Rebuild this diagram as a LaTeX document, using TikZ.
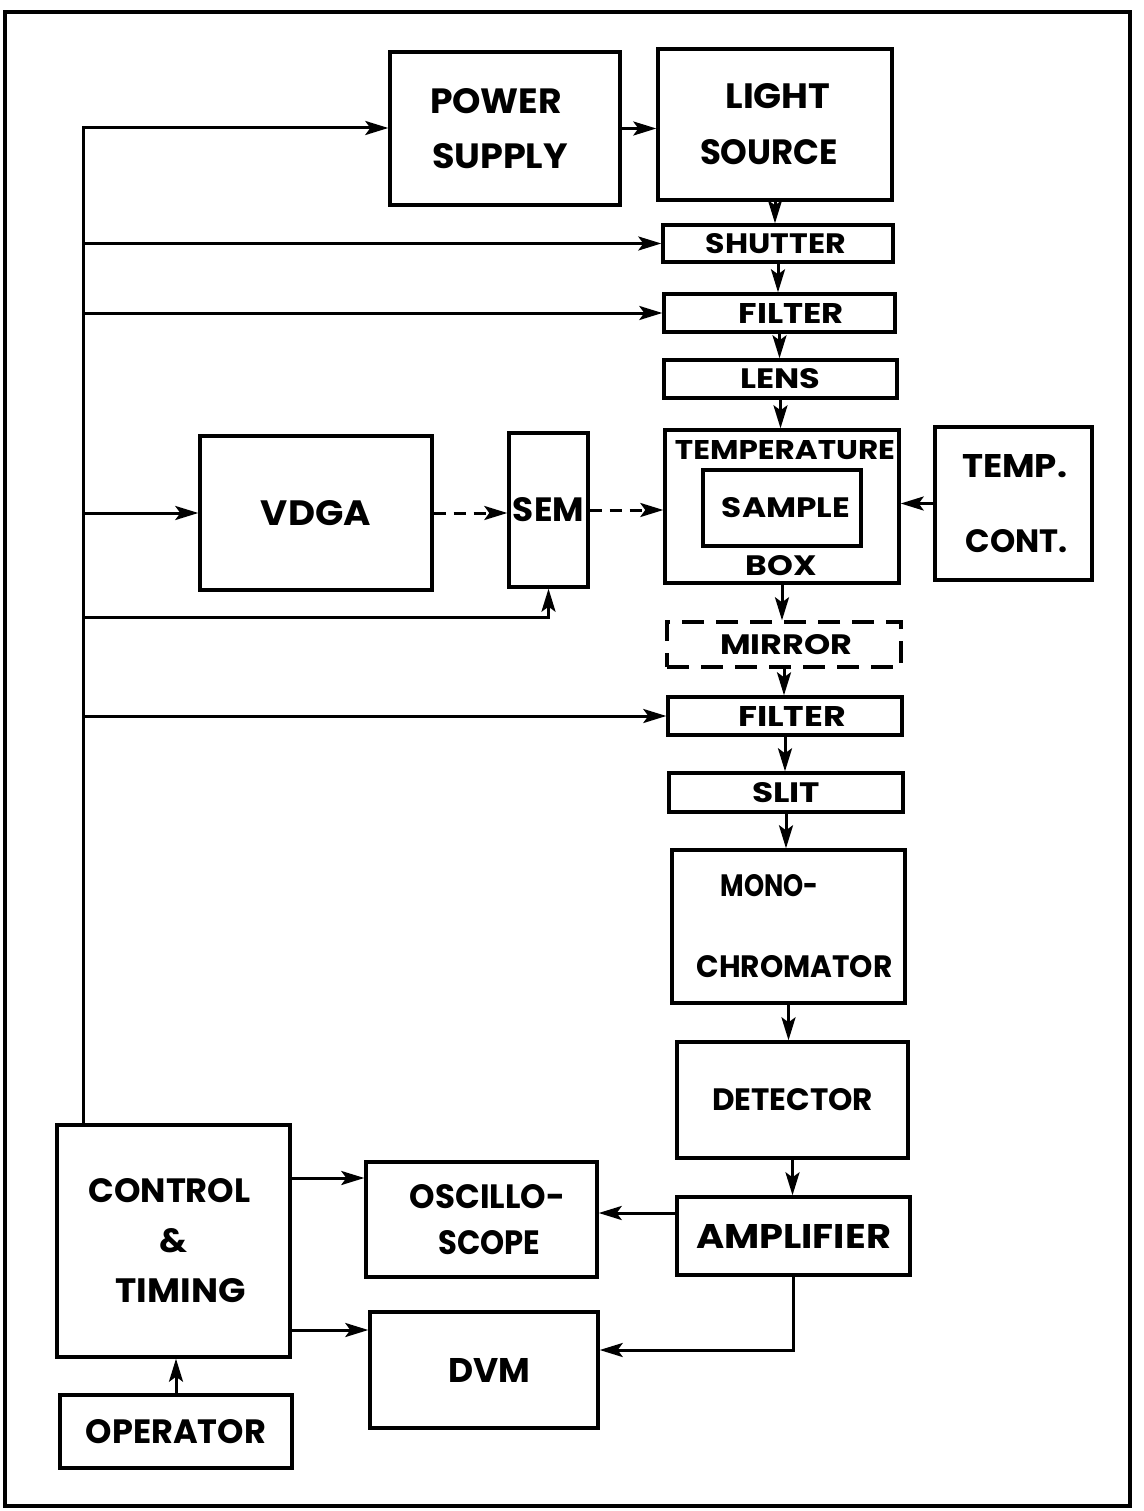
\documentclass[tikz,border=0pt]{standalone}
\usepackage{fontspec}
\setmainfont{Poppins}
\usetikzlibrary{arrows.meta}
\newcommand\TT[4][0]{\hspace*{#1pt}\resizebox{#2pt}{#3pt}{\bfseries #4}\hspace*{-#1pt}}
\tikzset{
  box/.style={draw, line width=3.4pt, inner sep=0pt, align=center},
  bs/.style={font=\fontsize{10pt}{#1pt}\selectfont},
  lbl/.style={inner sep=0pt, align=center},
  arr/.style={line width=3pt, -{Stealth[length=23pt,width=14pt,inset=5pt]}},
  darr/.style={arr, dash pattern=on 12pt off 8pt},
  dbox/.style={box, dash pattern=on 22pt off 12pt}
}
\begin{document}
\begin{tikzpicture}[x=1pt,y=-1pt]
\useasboundingbox (0,0) rectangle (1143,1511);
\draw[line width=4.5pt] (5,12) rectangle (1130,1506);

% top row
\node[box, minimum width=230pt, minimum height=153pt, bs=55] (ps) at (505,128.5) {\TT[-9]{132}{25}{POWER}\\\TT[-5]{136}{25}{SUPPLY}};
\node[box, minimum width=234pt, minimum height=151pt, bs=56] (ls) at (775,124.5) {\TT[3]{105}{25}{LIGHT}\\\TT[-6]{138}{25}{SOURCE}};

% optical chain
\node[box, minimum width=230pt, minimum height=37pt] (sh) at (778,243.5) {\TT[-2]{140}{20}{SHUTTER}};
\node[box, minimum width=231pt, minimum height=38pt] (f1) at (779.5,313) {\TT[12]{105}{20}{FILTER}};
\node[box, minimum width=233pt, minimum height=38pt] (ln) at (780.5,379) {\TT{80}{20}{LENS}};
\node[box, minimum width=234pt, minimum height=153pt] (tb) at (782,506.5) {};
\node[lbl] (tbt) at (785,450) {\TT{220}{19}{TEMPERATURE}};
\node[box, minimum width=158pt, minimum height=76pt] (sp) at (782,508) {\TT[4]{128}{20}{SAMPLE}};
\node[lbl] (tbb) at (781,566) {\TT{71}{20}{BOX}};
\node[box, minimum width=157pt, minimum height=153pt, bs=75] (tc) at (1013.5,503.5) {\TT[1]{105}{23}{TEMP.}\\\TT[3]{102}{23}{CONT.}};
\node[dbox, minimum width=234pt, minimum height=45pt] (mir) at (784,644.5) {\TT[2]{132}{20}{MIRROR}};
\node[box, minimum width=234pt, minimum height=38pt] (f2) at (785,716) {\TT[7]{108}{20}{FILTER}};
\node[box, minimum width=234pt, minimum height=39pt] (sl) at (786,792.5) {\TT{68}{20}{SLIT}};
\node[box, minimum width=233pt, minimum height=153pt, bs=81] (mono) at (788.5,926.5) {\TT[-19]{98}{22}{MONO-}\\\TT[6]{196}{22}{CHROMATOR}};
\node[box, minimum width=231pt, minimum height=116pt] (det) at (792.5,1100) {\TT{161}{22}{DETECTOR}};
\node[box, minimum width=233pt, minimum height=78pt] (amp) at (793.5,1236) {\TT{195}{24}{AMPLIFIER}};

% left side
\node[box, minimum width=232pt, minimum height=154pt] (vdga) at (316,513) {\TT{110}{25}{VDGA}};
\node[box, minimum width=79pt, minimum height=154pt] (sem) at (548.5,510) {\TT{71}{24}{SEM}};

% bottom
\node[box, minimum width=233pt, minimum height=232pt, bs=50] (ctl) at (173.5,1241) {\TT[-4]{162}{24}{CONTROL}\\\TT{28}{24}{\&}\\\TT[7]{130}{24}{TIMING}};
\node[box, minimum width=232pt, minimum height=73pt] (op) at (176,1431.5) {\TT{180}{24}{OPERATOR}};
\node[box, minimum width=231pt, minimum height=115pt, bs=46] (osc) at (481.5,1219.5) {\TT[6]{155}{24}{OSCILLO-}\\\TT[8]{102}{24}{SCOPE}};
\node[box, minimum width=228pt, minimum height=116pt] (dvm) at (484,1370) {\TT[5]{82}{24}{DVM}};

% helper coordinates
\coordinate (bus) at (83,128);
\coordinate (semb) at (548.5,617);
\coordinate (c1) at (0,1178);
\coordinate (c2) at (0,1330);
\coordinate (a1) at (0,1213);
\coordinate (a2) at (0,1350);

% control bus
\draw[arr] (ctl.north -| bus) -- (bus) -- (bus -| ps.west);
\draw[arr] (bus |- sh.west) -- (sh.west);
\draw[arr] (bus |- f1.west) -- (f1.west);
\draw[arr] (bus |- vdga.west) -- (vdga.west);
\draw[arr] (bus |- semb) -- (semb) -- (sem.south);
\draw[arr] (bus |- f2.west) -- (f2.west);

% power -> light
\draw[arr] (ps.east) -- (ps.east -| ls.west);

% chain
\draw[arr] (ls.south) -- (ls.south |- sh.north);
\draw[arr] (sh.south) -- (sh.south |- f1.north);
\draw[arr] (f1.south) -- (f1.south |- ln.north);
\draw[arr] (ln.south) -- (ln.south |- tb.north);
\draw[arr] (tb.south) -- (tb.south |- mir.north);
\draw[arr] (mir.south) -- (mir.south |- f2.north);
\draw[arr] (f2.south) -- (f2.south |- sl.north);
\draw[arr] (sl.south) -- (sl.south |- mono.north);
\draw[arr] (mono.south) -- (mono.south |- det.north);
\draw[arr] (det.south) -- (det.south |- amp.north);

% temp control
\draw[arr] (tc.west) -- (tc.west -| tb.east);

% vdga / sem dashed
\draw[darr] (vdga.east) -- (vdga.east -| sem.west);
\draw[darr] (sem.east) -- (sem.east -| tb.west);

% outputs
\draw[arr] (amp.west |- a1) -- (osc.east |- a1);
\draw[arr] (amp.south) |- (dvm.east |- a2);
\draw[arr] (ctl.east |- c1) -- (osc.west |- c1);
\draw[arr] (ctl.east |- c2) -- (dvm.west |- c2);
\draw[arr] (op.north) -- (op.north |- ctl.south);
\end{tikzpicture}
\end{document}
